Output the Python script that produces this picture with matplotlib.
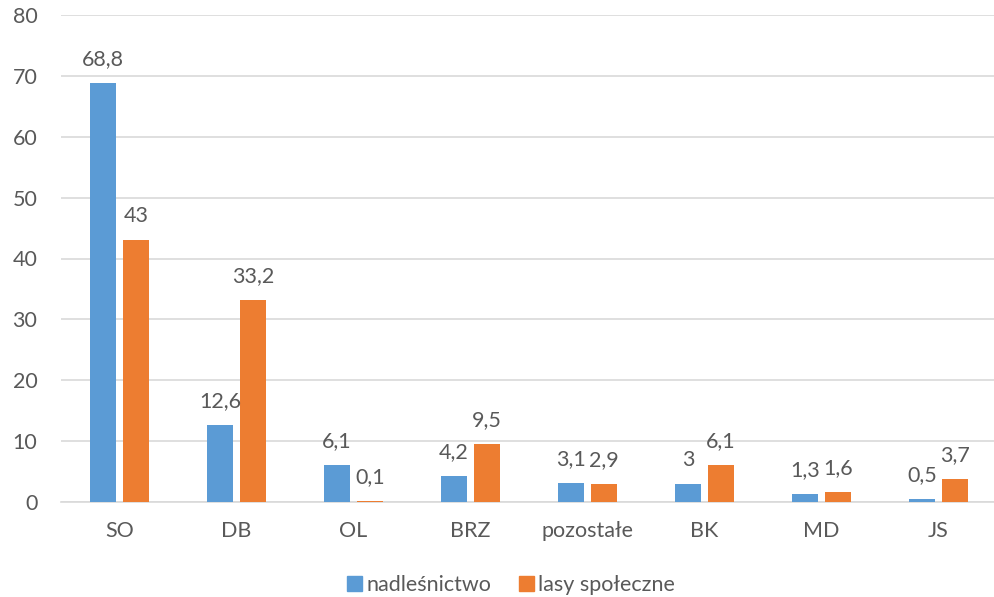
import matplotlib
matplotlib.use("Agg")
import matplotlib.pyplot as plt
import numpy as np
from matplotlib.patches import Patch

categories = ["SO", "DB", "OL", "BRZ", "pozostałe", "BK", "MD", "JS"]
nadlesnictwo = [68.8, 12.6, 6.1, 4.2, 3.1, 3, 1.3, 0.5]
lasy_spoleczne = [43, 33.2, 0.1, 9.5, 2.9, 6.1, 1.6, 3.7]
series_names = ["nadleśnictwo", "lasy społeczne"]
yticks = [0, 10, 20, 30, 40, 50, 60, 70, 80]

blue = "#5B9BD5"
orange = "#ED7D31"
txt = "#595959"
fs = 15.5

plt.rcParams['font.family'] = ['Lato', 'DejaVu Sans']

fig = plt.figure(figsize=(9.95, 5.97), dpi=100)
ax = fig.add_axes([61/995, 1 - 502/597, (997-61)/995, (502-15)/597])

x = np.arange(len(categories))
w = 0.222
off = 0.141
b1 = ax.bar(x - off, nadlesnictwo, w, color=blue, zorder=3)
b2 = ax.bar(x + off, lasy_spoleczne, w, color=orange, zorder=3)

def fmt(v):
    return ("%g" % v).replace(".", ",")

for bars, vals in ((b1, nadlesnictwo), (b2, lasy_spoleczne)):
    for r, v in zip(bars, vals):
        ax.annotate(fmt(v), (r.get_x() + r.get_width()/2, v), xytext=(0, 10),
                    textcoords="offset points", ha="center", va="bottom",
                    fontsize=fs, color=txt)

ax.set_xlim(-0.5, len(categories) - 0.5)
ax.set_ylim(0, 80)
ax.set_yticks(yticks)
ax.set_xticks(x)
ax.set_xticklabels(categories)
ax.tick_params(axis='both', length=0, labelsize=fs, colors=txt)
ax.tick_params(axis='y', pad=17)
ax.tick_params(axis='x', pad=14)
ax.grid(axis='y', color="#D9D9D9", linewidth=1.2, zorder=0)
for s in ["top", "right", "left"]:
    ax.spines[s].set_visible(False)
ax.spines["bottom"].set_color("#D9D9D9")
ax.spines["bottom"].set_linewidth(1.2)

handles = [Patch(color=blue), Patch(color=orange)]
fig.legend(handles, series_names, loc="center", bbox_to_anchor=(511/995, 1 - 585/597),
           ncol=2, frameon=False, fontsize=fs, labelcolor=txt,
           handlelength=0.7, handleheight=0.7, handletextpad=0.2, columnspacing=1.3)

fig.savefig("out.png", dpi=100)
